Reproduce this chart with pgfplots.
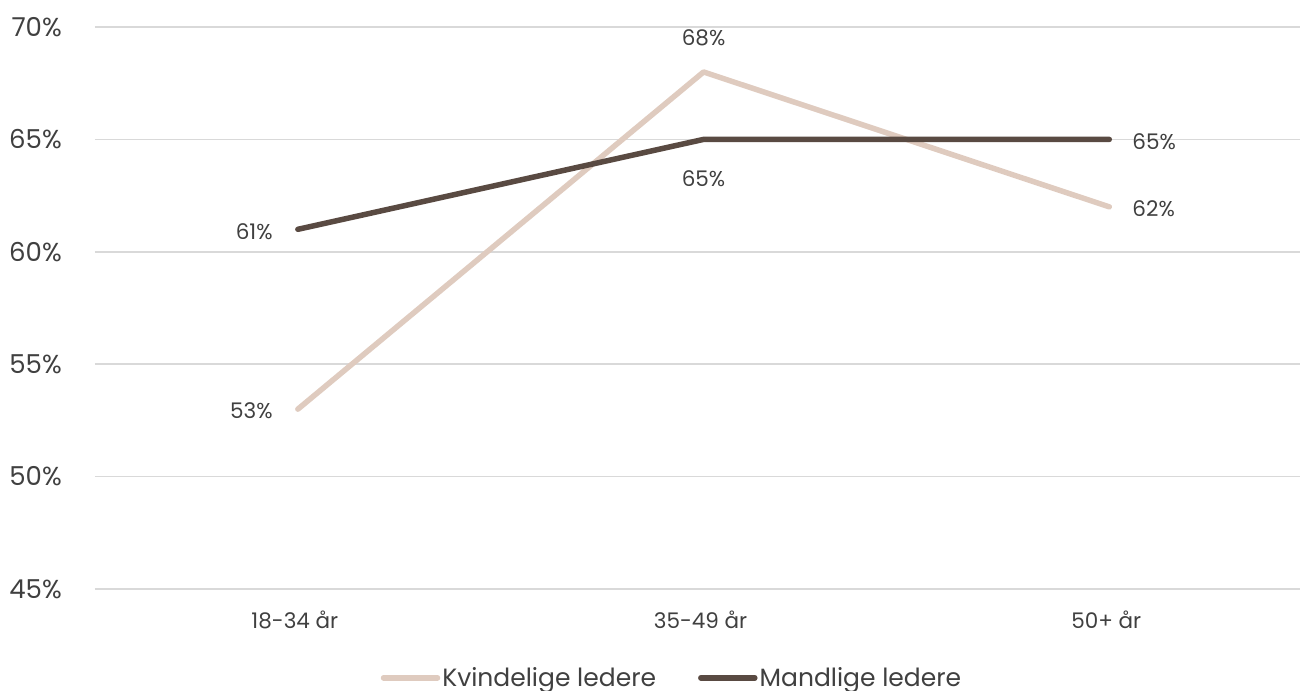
\documentclass[border=0pt]{standalone}
\usepackage{fontspec}
\setmainfont{Poppins}
\usepackage{pgfplots}
\usepackage{pgfplotstable}
\pgfplotsset{compat=1.18}

\definecolor{kvinde}{HTML}{DFCBBF}
\definecolor{mand}{HTML}{594A42}
\definecolor{tekst}{HTML}{404040}
\definecolor{gitter}{HTML}{D9D9D9}

% Andel pr. aldersgruppe
\pgfplotstableread{
x y
0 53
1 68
2 62
}\kvinder

\pgfplotstableread{
x y
0 61
1 65
2 65
}\maend

\pgfplotsset{
  etiketter/.style 2 args={
    nodes near coords={\pgfmathprintnumber{\pgfplotspointmeta}\%},
    every node near coord/.append style={font=\fontsize{21.5}{26}\selectfont,
      text=tekst, inner sep=0pt},
    coordinate style/.condition={\coordindex==0}{anchor=east, xshift=-25pt, yshift=-2pt},
    coordinate style/.condition={\coordindex==1}{anchor=#1, yshift=#2},
    coordinate style/.condition={\coordindex==2}{anchor=west, xshift=23pt, yshift=-2pt}},
}

\begin{document}
\begin{tikzpicture}
\begin{axis}[
  at={(0pt,0pt)}, anchor=south west,
  scale only axis,
  width=1205pt, height=562pt,
  xmin=-0.5, xmax=2.47,
  ymin=45, ymax=70,
  axis line style={draw=none},
  ymajorgrids,
  grid style={gitter, line width=1.6pt},
  xtick={0,1,2},
  xticklabels={18-34 år, 35-49 år, 50+ år},
  ytick={45,50,55,60,65,70},
  yticklabels={45\%,50\%,55\%,60\%,65\%,70\%},
  major tick length=0pt,
  tick style={draw=none},
  yticklabel style={font=\fontsize{26}{31}\selectfont, text=tekst, anchor=east, inner sep=0pt, xshift=-33pt},
  xticklabel style={font=\fontsize{21.5}{26}\selectfont, text=tekst, anchor=north, inner sep=0pt, yshift=-22pt, xshift=-3pt},
  /pgf/number format/assume math mode=true,
  legend columns=2,
  legend style={draw=none, fill=none, at={(0.237,-0.158)}, anchor=west, inner sep=0pt,
    font=\fontsize{25}{30}\selectfont, text=tekst,
    /tikz/every even column/.append style={column sep=40pt},
    nodes={inner sep=2pt}},
  legend image code/.code={\draw[#1, line cap=round] (0pt,0pt) -- (54pt,0pt);},
  clip=false,
]
\addplot[kvinde, line width=5.5pt, line cap=round, line join=round]
  table[x=x, y=y] {\kvinder};
\addlegendentry{Kvindelige ledere}
\addplot[mand, line width=5.5pt, line cap=round, line join=round]
  table[x=x, y=y] {\maend};
\addlegendentry{Mandlige ledere}
\addplot[draw=none, forget plot, etiketter={south}{26pt}] table[x=x, y=y] {\kvinder};
\addplot[draw=none, forget plot, etiketter={north}{-31pt}] table[x=x, y=y] {\maend};
\end{axis}
\pgfresetboundingbox
\path[use as bounding box] (-95pt,-102pt) rectangle (1207pt,589pt);
\end{tikzpicture}
\end{document}
